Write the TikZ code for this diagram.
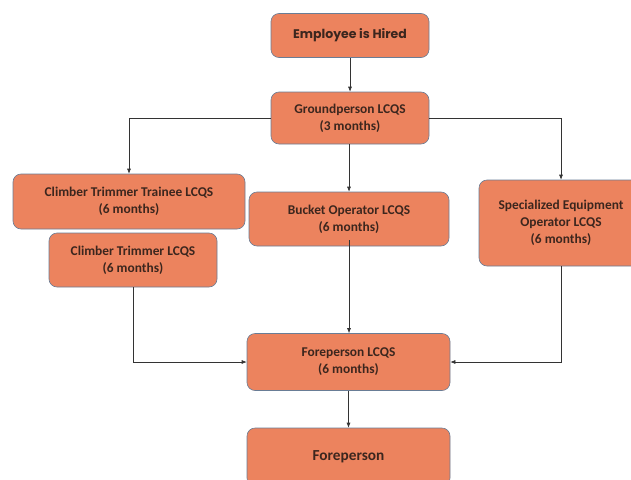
\documentclass[tikz,border=0pt]{standalone}
\usepackage{fontspec}
\setmainfont{Carlito}
\newfontfamily\popfont{Poppins}
\usetikzlibrary{arrows.meta}
\definecolor{boxfill}{RGB}{236,131,94}
\definecolor{boxline}{RGB}{105,125,150}
\definecolor{txt}{RGB}{60,38,30}
\tikzset{
  box/.style={draw=boxline, line width=0.6pt, fill=boxfill, rounded corners=8pt, inner sep=0pt,
    text=txt, font=\bfseries\fontsize{13.4}{17}\selectfont, align=center},
  conn/.style={draw=black!80, line width=0.6pt, -{Latex[length=5pt,width=4pt]}},
  plain/.style={draw=black!80, line width=0.6pt}
}
\begin{document}
\begin{tikzpicture}[x=1pt,y=-1pt]
\useasboundingbox (0,0) rectangle (631,479);
\begin{scope}
\clip (0,0) rectangle (631,479);
\node[box, minimum width=158pt, minimum height=44pt, font=\popfont\bfseries\fontsize{12.5}{14}\selectfont] (hired) at (350,35.5) {Employee is Hired};
\node[box, minimum width=158pt, minimum height=52pt] (ground) at (350,118) {Groundperson LCQS\\(3 months)};
\node[box, minimum width=232pt, minimum height=55pt] (trainee) at (129,201.5) {Climber Trimmer Trainee LCQS\\(6 months)};
\node[box, minimum width=168pt, minimum height=54pt] (climber) at (133,260) {Climber Trimmer LCQS\\(6 months)};
\node[box, minimum width=200pt, minimum height=54pt] (bucket) at (349,219) {Bucket Operator LCQS\\(6 months)};
\node[box, minimum width=164pt, minimum height=86pt] (spec) at (561,223) {Specialized Equipment\\Operator LCQS\\(6 months)};
\node[box, minimum width=203pt, minimum height=57pt] (fcqs) at (348.5,362) {Foreperson LCQS\\(6 months)};
\node[box, minimum width=203pt, minimum height=58pt, font=\bfseries\fontsize{15.3}{17}\selectfont] (fore) at (348.5,457) {Foreperson};
\end{scope}
\draw[conn] (hired.south) -- (ground.north);
\draw[conn] (ground.west) -| (trainee.north);
\draw[conn] (ground.east) -| (spec.north);
\draw[conn] (ground.south -| bucket.north) -- (bucket.north);
\coordinate (bstart) at ([yshift=6pt]bucket.south);
\draw[conn] (bstart) -- (bstart |- fcqs.north);
\draw[conn] (climber.south) |- (fcqs.west);
\draw[conn] (spec.south) |- (fcqs.east);
\draw[conn] (fcqs.south) -- (fore.north);
\end{tikzpicture}
\end{document}
